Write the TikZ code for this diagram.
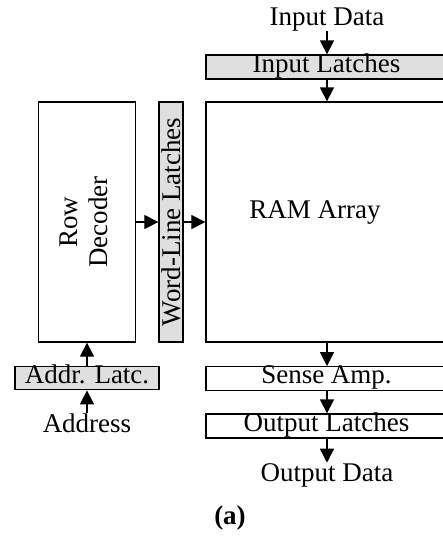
\documentclass[tikz,border=0pt]{standalone}
\usepackage{fontspec}
\setmainfont{Liberation Serif}
\usetikzlibrary{positioning,arrows.meta}

\tikzset{
  blk/.style={draw, line width=0.65pt, inner sep=0pt},
  bar/.style={blk, text height=0.7em, text depth=0.16em},
  latch/.style={bar, fill=gray!25},
  lbl/.style={inner sep=0pt},
  arr/.style={-{Triangle[length=7pt,width=7pt]}, line width=0.65pt},
}

\begin{document}
\begin{tikzpicture}[x=0.5pt, y=-0.5pt, font=\fontsize{13.5}{15}\selectfont]
  \clip (0,0) rectangle (443,538);
  % data path, right column
  \node[lbl, anchor=base] (indata) at (327,25) {Input Data};
  \node[latch, minimum width=120.5pt, minimum height=12pt] (inlatch) at (326.5,67) {Input Latches};
  \node[blk, minimum width=120.5pt, minimum height=120pt,
        label={[lbl, xshift=-5.75pt, yshift=5pt]center:RAM Array}] (ram) at (326.5,222) {};
  \node[bar, minimum width=120.5pt, minimum height=11.75pt] (sense) at (326.5,378.5) {Sense Amp.};
  \node[bar, minimum width=120.5pt, minimum height=12pt] (outlatch) at (326.5,426) {Output Latches};
  \node[lbl, anchor=base] (outdata) at (327,481) {Output Data};
  % address path, left column
  \node[blk, minimum width=48.5pt, minimum height=120pt] (rowdec) at (87,222)
    {\rotatebox{90}{\begin{tabular}{@{}c@{}}Row\\Decoder\end{tabular}}};
  \node[blk, fill=gray!25, minimum width=12pt, minimum height=120pt] (wll) at (171,222)
    {\rotatebox{90}{Word-Line Latches}};
  \node[latch, minimum width=72pt, minimum height=11.75pt] (addr) at (87,378) {Addr. Latc.};
  \node[lbl, anchor=base] (address) at (87,432) {Address};
  \node[lbl, anchor=base, font=\fontsize{13.5}{15}\selectfont\bfseries] (cap) at (230,524) {(a)};

  \draw[arr] (indata.south) -- (indata.south |- inlatch.north);
  \draw[arr] (inlatch.south -| indata) -- (ram.north -| indata);
  \draw[arr] (ram.south -| indata) -- (sense.north -| indata);
  \draw[arr] (sense.south -| indata) -- (outlatch.north -| indata);
  \draw[arr] (outlatch.south -| indata) -- (outdata.north);
  \draw[arr] (rowdec) -- (wll);
  \draw[arr] (wll) -- (ram);
  \draw[arr] (addr) -- (rowdec);
  \draw[arr] (address) -- (addr);
\end{tikzpicture}
\end{document}
